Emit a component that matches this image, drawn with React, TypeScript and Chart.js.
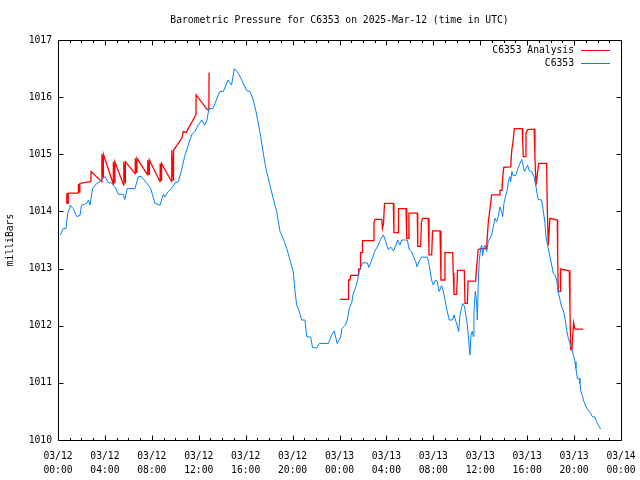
import React, { useEffect, useRef } from 'react';
import { Chart, registerables } from 'chart.js';

Chart.register(...registerables);

const TITLE = 'Barometric Pressure for C6353 on 2025-Mar-12 (time in UTC)';
const Y_TITLE = 'milliBars';
const SERIES_NAMES = ['C6353 Analysis', 'C6353'];
const SERIES_COLORS = ['#ff0000', '#0080ff'];
const FONT = '"DejaVu Sans Mono", "Liberation Mono", monospace';

const X_TICK_HOURS = [0, 4, 8, 12, 16, 20, 24, 28, 32, 36, 40, 44, 48];
const X_TICK_DATES = ['03/12', '03/12', '03/12', '03/12', '03/12', '03/12', '03/13', '03/13', '03/13', '03/13', '03/13', '03/13', '03/14'];
const X_TICK_TIMES = ['00:00', '04:00', '08:00', '12:00', '16:00', '20:00', '00:00', '04:00', '08:00', '12:00', '16:00', '20:00', '00:00'];
const Y_TICKS = [1010, 1011, 1012, 1013, 1014, 1015, 1016, 1017];

// Analysis series, first part (hours since 03/12 00:00 UTC)
const analysisHours1 = [
  0.74, 0.75, 0.86, 0.87, 1.73, 1.74, 1.85, 1.86, 2.73, 2.8,
  2.82, 3.73, 3.74, 3.86, 3.87, 4.71, 4.72, 4.84, 4.85, 5.6,
  5.61, 5.74, 5.75, 6.58, 6.59, 6.72, 6.73, 7.64, 7.65, 7.78,
  7.79, 8.7, 8.71, 8.82, 8.83, 9.69, 9.7, 9.84, 9.85, 10.55,
  10.68, 10.91, 11.76, 11.78, 12.73, 12.86, 12.88,
];
const analysisValues1 = [
  1014.14, 1014.32, 1014.14, 1014.32, 1014.32, 1014.48, 1014.34, 1014.49, 1014.52, 1014.53,
  1014.7, 1014.52, 1015.0, 1014.6, 1015.0, 1014.48, 1014.87, 1014.5, 1014.87, 1014.46,
  1014.87, 1014.5, 1014.87, 1014.66, 1014.93, 1014.68, 1014.93, 1014.64, 1014.9, 1014.65,
  1014.9, 1014.52, 1014.84, 1014.55, 1014.84, 1014.52, 1015.07, 1014.55, 1015.07, 1015.28,
  1015.4, 1015.38, 1015.69, 1016.04, 1015.78, 1015.78, 1016.43,
];

// Analysis series, second part
const analysisHours2 = [
  24.04, 24.75, 24.77, 24.89, 24.95, 25.6, 25.62, 25.75, 25.79, 25.92,
  25.96, 26.88, 26.94, 27.03, 27.6, 27.66, 27.75, 27.84, 28.59, 28.64,
  28.99, 29.03, 29.67, 29.73, 29.88, 29.92, 30.63, 30.67, 30.92, 30.99,
  31.09, 31.57, 31.63, 31.86, 31.93, 32.57, 32.65, 32.93, 32.99, 33.65,
  33.7, 33.76, 33.99, 34.06, 34.64, 34.7, 34.9, 34.96, 35.61, 35.66,
  35.83, 36.04, 36.55, 36.6, 36.69, 36.83, 36.97, 37.62, 37.68, 37.85,
  37.91, 38.0, 38.6, 38.68, 38.82, 38.9, 39.58, 39.62, 39.67, 39.86,
  39.9, 40.04, 40.6, 40.66, 40.75, 40.86, 40.98, 41.66, 41.71, 41.8,
  41.94, 42.57, 42.6, 42.65, 42.8, 42.82, 42.88, 43.59, 43.65, 43.71,
  43.82, 43.88, 43.96, 44.07, 44.78,
];
const analysisValues2 = [
  1012.46, 1012.46, 1012.8, 1012.8, 1012.88, 1012.88, 1012.99, 1012.99, 1013.28, 1013.28,
  1013.49, 1013.49, 1013.8, 1013.86, 1013.86, 1013.7, 1013.78, 1014.14, 1014.14, 1013.63,
  1013.63, 1014.05, 1014.05, 1013.53, 1013.53, 1013.97, 1013.97, 1013.39, 1013.39, 1013.82,
  1013.88, 1013.88, 1013.24, 1013.24, 1013.66, 1013.66, 1012.8, 1012.8, 1013.28, 1013.28,
  1012.92, 1012.55, 1012.55, 1012.97, 1012.97, 1012.39, 1012.39, 1012.78, 1012.78, 1012.96,
  1013.33, 1013.35, 1013.35, 1013.57, 1013.82, 1014.05, 1014.29, 1014.29, 1014.37, 1014.37,
  1014.58, 1014.77, 1014.78, 1015.06, 1015.26, 1015.45, 1015.45, 1015.22, 1014.96, 1014.96,
  1015.37, 1015.43, 1015.44, 1014.96, 1014.46, 1014.64, 1014.84, 1014.84, 1014.11, 1013.41,
  1013.88, 1013.85, 1013.22, 1012.6, 1012.6, 1012.8, 1012.99, 1012.96, 1012.27, 1011.58,
  1011.58, 1011.81, 1012.05, 1011.94, 1011.94,
];

// Station observations
const stationHours = [
  0.2, 0.45, 0.68, 0.83, 0.97, 1.02, 1.3, 1.6, 1.88, 2.0,
  2.45, 2.6, 2.73, 2.95, 3.3, 3.58, 4.0, 4.3, 4.55, 4.86,
  5.14, 5.57, 5.7, 5.9, 6.56, 6.85, 7.1, 7.56, 7.9, 8.27,
  8.7, 8.98, 9.1, 9.4, 9.7, 9.97, 10.26, 10.5, 10.8, 11.1,
  11.4, 11.68, 11.96, 12.25, 12.5, 12.7, 12.87, 13.2, 13.5, 13.8,
  14.1, 14.5, 14.8, 15.03, 15.37, 15.66, 16.1, 16.37, 16.65, 16.88,
  17.08, 17.28, 17.5, 17.73, 17.93, 18.13, 18.35, 18.64, 18.93, 19.2,
  19.5, 19.78, 20.06, 20.2, 20.35, 20.57, 20.77, 21.06, 21.2, 21.54,
  21.7, 22.05, 22.28, 23.05, 23.33, 23.55, 23.8, 24.1, 24.2, 24.5,
  24.66, 24.83, 25.04, 25.18, 25.4, 25.55, 25.7, 25.97, 26.37, 26.5,
  26.8, 27.0, 27.3, 27.5, 27.74, 27.9, 28.16, 28.36, 28.6, 28.82,
  28.96, 29.15, 29.3, 29.78, 29.95, 30.15, 30.3, 30.5, 30.6, 30.77,
  31.0, 31.5, 31.65, 31.85, 32.0, 32.2, 32.33, 32.5, 32.7, 32.83,
  33.0, 33.13, 33.36, 33.64, 33.76, 33.93, 34.07, 34.16, 34.27, 34.5,
  34.67, 34.78, 34.89, 35.01, 35.12, 35.21, 35.32, 35.41, 35.46, 35.58,
  35.69, 35.75, 35.83, 35.92, 36.04, 36.12, 36.21, 36.32, 36.4, 36.55,
  36.68, 36.83, 36.97, 37.11, 37.26, 37.4, 37.54, 37.68, 37.82, 37.91,
  38.02, 38.19, 38.3, 38.39, 38.53, 38.59, 38.7, 38.82, 39.05, 39.16,
  39.33, 39.53, 39.62, 39.76, 39.9, 40.04, 40.18, 40.38, 40.58, 40.75,
  40.86, 40.95, 41.24, 41.37, 41.52, 41.6, 41.71, 41.8, 41.94, 42.09,
  42.23, 42.37, 42.51, 42.65, 42.8, 42.94, 43.08, 43.23, 43.37, 43.51,
  43.65, 43.8, 43.94, 44.08, 44.16, 44.28, 44.43, 44.5, 44.58, 44.73,
  44.84, 45.01, 45.2, 45.41, 45.55, 45.78, 45.92, 46.06, 46.27,
];
const stationValues = [
  1013.59, 1013.7, 1013.7, 1013.97, 1014.05, 1014.11, 1014.05, 1013.91, 1013.93, 1014.11,
  1014.14, 1014.2, 1014.11, 1014.4, 1014.49, 1014.52, 1014.61, 1014.5, 1014.5, 1014.43,
  1014.3, 1014.3, 1014.21, 1014.4, 1014.4, 1014.61, 1014.61, 1014.5, 1014.4, 1014.14,
  1014.11, 1014.3, 1014.25, 1014.35, 1014.4, 1014.5, 1014.52, 1014.7, 1014.96, 1015.16,
  1015.34, 1015.4, 1015.51, 1015.6, 1015.51, 1015.6, 1015.8, 1015.8, 1015.95, 1016.1,
  1016.1, 1016.3, 1016.21, 1016.5, 1016.42, 1016.3, 1016.11, 1016.1, 1015.95, 1015.75,
  1015.54, 1015.31, 1015.02, 1014.75, 1014.58, 1014.4, 1014.23, 1014.0, 1013.65, 1013.53,
  1013.35, 1013.15, 1012.94, 1012.62, 1012.36, 1012.25, 1012.1, 1012.1, 1011.81, 1011.8,
  1011.62, 1011.61, 1011.69, 1011.69, 1011.84, 1011.91, 1011.69, 1011.8, 1011.95, 1012.01,
  1012.1, 1012.3, 1012.4, 1012.57, 1012.68, 1012.8, 1012.97, 1013.1, 1013.1, 1013.02,
  1013.18, 1013.3, 1013.41, 1013.51, 1013.59, 1013.5, 1013.33, 1013.38, 1013.31, 1013.41,
  1013.5, 1013.41, 1013.5, 1013.5, 1013.33, 1013.3, 1013.21, 1013.12, 1013.03, 1013.12,
  1013.2, 1013.2, 1013.06, 1012.8, 1012.71, 1012.8, 1012.78, 1012.6, 1012.7, 1012.62,
  1012.45, 1012.3, 1012.1, 1012.1, 1012.19, 1012.07, 1011.98, 1011.9, 1012.19, 1012.39,
  1012.33, 1012.16, 1012.04, 1011.75, 1011.49, 1011.84, 1011.9, 1011.81, 1012.22, 1012.6,
  1012.42, 1012.1, 1012.74, 1013.15, 1013.35, 1013.41, 1013.23, 1013.38, 1013.41, 1013.3,
  1013.47, 1013.53, 1013.59, 1013.73, 1013.88, 1013.82, 1013.91, 1014.08, 1014.0, 1013.91,
  1014.14, 1014.29, 1014.37, 1014.52, 1014.61, 1014.52, 1014.7, 1014.62, 1014.64, 1014.72,
  1014.81, 1014.91, 1014.84, 1014.7, 1014.75, 1014.81, 1014.71, 1014.7, 1014.61, 1014.44,
  1014.29, 1014.21, 1014.2, 1014.02, 1013.79, 1013.56, 1013.44, 1013.35, 1013.21, 1013.06,
  1012.92, 1012.89, 1012.8, 1012.6, 1012.45, 1012.33, 1012.27, 1012.13, 1011.92, 1011.78,
  1011.69, 1011.6, 1011.49, 1011.37, 1011.25, 1011.08, 1011.08, 1010.99, 1010.85, 1010.76,
  1010.67, 1010.59, 1010.52, 1010.47, 1010.41, 1010.4, 1010.32, 1010.26, 1010.19,
];

const toPoints = (hs: number[], vs: number[]) =>
  hs.slice(0, Math.min(hs.length, vs.length)).map((h, i) => ({ x: h, y: vs[i] }));

const decorPlugin = {
  id: 'gnuplotDecor',
  afterDatasetsDraw(chart: any) {
    const { ctx, chartArea, scales } = chart;
    const { left, right, top, bottom } = chartArea;
    const xs = scales.x;
    const ys = scales.y;
    ctx.save();
    ctx.strokeStyle = '#000';
    ctx.lineWidth = 1;
    ctx.beginPath();
    const L = Math.round(left) + 0.5;
    const R = Math.round(right) + 0.5;
    const T = Math.round(top) + 0.5;
    const B = Math.round(bottom) + 0.5;
    ctx.rect(L, T, R - L, B - T);
    // x ticks: major every 4 h, minor every hour
    for (let h = 0; h <= 48; h++) {
      const px = Math.round(xs.getPixelForValue(h)) + 0.5;
      const len = h % 4 === 0 ? 5 : 2.5;
      ctx.moveTo(px, B);
      ctx.lineTo(px, B - len);
      ctx.moveTo(px, T);
      ctx.lineTo(px, T + len);
    }
    for (const v of Y_TICKS) {
      const py = Math.round(ys.getPixelForValue(v)) + 0.5;
      ctx.moveTo(L, py);
      ctx.lineTo(L + 5, py);
      ctx.moveTo(R, py);
      ctx.lineTo(R - 5, py);
    }
    ctx.stroke();

    ctx.fillStyle = '#000';
    ctx.font = `9.7px ${FONT}`;
    ctx.textBaseline = 'middle';
    // title
    ctx.textAlign = 'center';
    ctx.fillText(TITLE, (left + right) / 2, 20);
    // y title
    ctx.save();
    ctx.translate(10, (top + bottom) / 2);
    ctx.rotate(-Math.PI / 2);
    ctx.fillText(Y_TITLE, 0, 0);
    ctx.restore();
    // legend
    const legendY = [50, 63];
    ctx.textAlign = 'right';
    SERIES_NAMES.forEach((name, i) => {
      ctx.fillStyle = '#000';
      ctx.fillText(name, 574, legendY[i]);
      ctx.strokeStyle = SERIES_COLORS[i];
      ctx.beginPath();
      ctx.moveTo(581, legendY[i] + 0.5);
      ctx.lineTo(610, legendY[i] + 0.5);
      ctx.stroke();
    });
    ctx.restore();
  },
};

export default function App() {
  const ref = useRef<HTMLCanvasElement | null>(null);
  useEffect(() => {
    if (!ref.current) return;
    const analysisData = [
      ...toPoints(analysisHours1, analysisValues1),
      { x: 18, y: null as any },
      ...toPoints(analysisHours2, analysisValues2),
    ];
    const chart = new Chart(ref.current, {
      type: 'line',
      data: {
        datasets: [
          {
            label: SERIES_NAMES[1],
            data: toPoints(stationHours, stationValues),
            borderColor: SERIES_COLORS[1],
            borderWidth: 1,
            pointRadius: 0,
            tension: 0,
            order: 0,
          },
          {
            label: SERIES_NAMES[0],
            data: analysisData,
            borderColor: SERIES_COLORS[0],
            borderWidth: 1.3,
            pointRadius: 0,
            tension: 0,
            spanGaps: false,
            order: 1,
          },
        ],
      },
      options: {
        animation: false,
        responsive: false,
        devicePixelRatio: 1,
        layout: { padding: { top: 40, right: 19, bottom: 0, left: 0 } },
        plugins: {
          legend: { display: false },
          title: { display: false },
          tooltip: { enabled: false },
        },
        scales: {
          x: {
            type: 'linear',
            min: 0,
            max: 48,
            afterFit: (s: any) => { s.height = 40; s.paddingLeft = 0; s.paddingRight = 0; },
            afterBuildTicks: (s: any) => { s.ticks = X_TICK_HOURS.map((v) => ({ value: v })); },
            grid: { display: false, drawTicks: false },
            border: { display: false },
            ticks: {
              autoSkip: false,
              maxRotation: 0,
              padding: 9,
              color: '#000',
              font: { family: FONT, size: 9.7, lineHeight: 1.45 },
              callback: (v: any) => {
                const i = X_TICK_HOURS.indexOf(Number(v));
                return i >= 0 ? [X_TICK_DATES[i], X_TICK_TIMES[i]] : '';
              },
            },
          },
          y: {
            type: 'linear',
            min: 1010,
            max: 1017,
            afterFit: (s: any) => { s.width = 58; s.paddingTop = 0; s.paddingBottom = 0; },
            afterBuildTicks: (s: any) => { s.ticks = Y_TICKS.map((v) => ({ value: v })); },
            grid: { display: false, drawTicks: false },
            border: { display: false },
            ticks: {
              padding: 6,
              color: '#000',
              font: { family: FONT, size: 9.7 },
              callback: (v: any) => String(v),
            },
          },
        },
      },
      plugins: [decorPlugin],
    });
    return () => chart.destroy();
  }, []);
  return (
    <div style={{ position: 'absolute', left: 0, top: 0, width: 640, height: 480, background: '#fff' }}>
      <canvas ref={ref} width={640} height={480} style={{ width: 640, height: 480 }} />
    </div>
  );
}
